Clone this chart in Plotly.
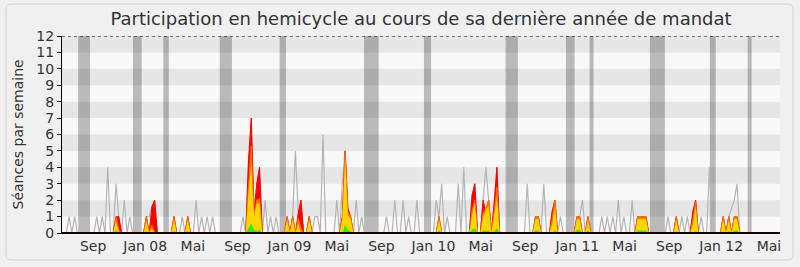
import plotly.graph_objects as go
import pandas as pd

# ---------------- data (weekly, first week starting 2007-06-18) ----------------
premiere_semaine = "2007-06-18"

seances_totales = [
    0, 0, 1, 0, 1, 0, 0, 0, 0, 0,
    0, 0, 1, 0, 1, 0, 4, 0, 0, 3,
    1, 0, 2, 0, 1, 0, 0, 0, 0, 0,
    1, 1, 1.6, 2, 0, 0, 0, 0, 0, 0,
    1, 0, 0, 1, 0, 1, 0, 0, 2, 0,
    1, 0, 1, 0, 1, 0, 0, 0, 0, 0,
    0, 0, 0, 0, 0, 1, 0, 4.4, 7, 1.2,
    3, 4, 0, 2, 0, 1, 0, 1, 0, 0,
    0, 1, 0, 1, 5, 1.2, 2, 0, 0, 1,
    0, 1, 1, 0, 6, 0, 0, 0, 0, 2,
    0, 3, 5, 1.5, 1, 0, 2, 0, 1, 0,
    0, 0, 0, 0, 0, 0, 0, 1, 0, 0,
    2, 0, 0, 2, 0, 1, 0, 0, 2, 0,
    0, 0, 0, 0, 0, 2, 1, 3, 0, 1,
    0, 0, 0, 3, 0, 4, 0, 0, 2.3, 3,
    0, 0, 2, 4, 2, 0, 1.8, 4, 0, 0,
    0, 0, 0, 0, 0, 0, 0, 0, 3, 0,
    0, 1, 1, 0, 3, 0, 0, 1.3, 2, 0,
    1, 0, 0, 0, 0, 0, 1, 1, 2, 0,
    1, 0, 0, 0, 0, 1, 0, 1, 0, 1,
    0, 2, 0, 1, 0, 0, 2, 0, 1, 1,
    1, 1, 0, 0, 0, 0, 0, 0, 0, 1,
    0, 0, 1, 0, 1, 0, 1, 0, 1.3, 2,
    0, 1, 0, 0, 4, 0, 0, 0, 0, 1,
    0, 1, 1.5, 2, 3, 0, 0, 0, 0, 0,
    0, 0, 0, 0, 0, 0, 0, 0, 0, 0,
    0,
]

presences = [
    0, 0, 0, 0, 0, 0, 0, 0, 0, 0,
    0, 0, 0, 0, 0, 0, 0, 0, 0, 1,
    1, 0, 0, 0, 0, 0, 0, 0, 0, 0,
    1, 0, 1.6, 2, 0, 0, 0, 0, 0, 0,
    1, 0, 0, 0, 0, 1, 0, 0, 0, 0,
    0, 0, 0, 0, 0, 0, 0, 0, 0, 0,
    0, 0, 0, 0, 0, 0, 0, 4.4, 7, 1.2,
    3, 4, 0, 0, 0, 0, 0, 0, 0, 0,
    0, 1, 0, 1, 0, 1.2, 2, 0, 0, 1,
    0, 0, 0, 0, 0, 0, 0, 0, 0, 0,
    0, 1, 5, 1.5, 1, 0, 0, 0, 0, 0,
    0, 0, 0, 0, 0, 0, 0, 0, 0, 0,
    0, 0, 0, 0, 0, 0, 0, 0, 0, 0,
    0, 0, 0, 0, 0, 0, 1, 0, 0, 0,
    0, 0, 0, 0, 0, 0, 0, 0, 2.3, 3,
    0, 0, 2, 1.2, 2, 0, 1.8, 4, 0, 0,
    0, 0, 0, 0, 0, 0, 0, 0, 0, 0,
    0, 1, 1, 0, 0, 0, 0, 1.3, 2, 0,
    0, 0, 0, 0, 0, 0, 1, 1, 0, 0,
    1, 0, 0, 0, 0, 0, 0, 0, 0, 0,
    0, 0, 0, 0, 0, 0, 0, 0, 1, 1,
    1, 1, 0, 0, 0, 0, 0, 0, 0, 0,
    0, 0, 1, 0, 0, 0, 0, 0, 1.3, 2,
    0, 0, 0, 0, 0, 0, 0, 0, 0, 1,
    0, 1, 0, 1, 1, 0, 0, 0, 0, 0,
    0, 0, 0, 0, 0, 0, 0, 0, 0, 0,
    0,
]

participations = [
    0, 0, 0, 0, 0, 0, 0, 0, 0, 0,
    0, 0, 0, 0, 0, 0, 0, 0, 0, 1,
    0.2, 0, 0, 0, 0, 0, 0, 0, 0, 0,
    1, 0, 0.5, 0, 0, 0, 0, 0, 0, 0,
    1, 0, 0, 0, 0, 1, 0, 0, 0, 0,
    0, 0, 0, 0, 0, 0, 0, 0, 0, 0,
    0, 0, 0, 0, 0, 0, 0, 2.8, 5.3, 1.2,
    2, 2.1, 0, 0, 0, 0, 0, 0, 0, 0,
    0, 1, 0, 1, 0, 0.9, 0.3, 0, 0, 1,
    0, 0, 0, 0, 0, 0, 0, 0, 0, 0,
    0, 1, 5, 1.3, 1, 0, 0, 0, 0, 0,
    0, 0, 0, 0, 0, 0, 0, 0, 0, 0,
    0, 0, 0, 0, 0, 0, 0, 0, 0, 0,
    0, 0, 0, 0, 0, 0, 1, 0, 0, 0,
    0, 0, 0, 0, 0, 0, 0, 0, 1.4, 2,
    0, 0, 1.2, 1.5, 2, 0, 1.2, 2.8, 0, 0,
    0, 0, 0, 0, 0, 0, 0, 0, 0, 0,
    0, 1, 1, 0, 0, 0, 0, 0.8, 2, 0,
    0, 0, 0, 0, 0, 0, 1, 1, 0, 0,
    1, 0, 0, 0, 0, 0, 0, 0, 0, 0,
    0, 0, 0, 0, 0, 0, 0, 0, 1, 1,
    1, 1, 0, 0, 0, 0, 0, 0, 0, 0,
    0, 0, 1, 0, 0, 0, 0, 0, 0.8, 1.9,
    0, 0, 0, 0, 0, 0, 0, 0, 0, 1,
    0, 1, 0, 1, 1, 0, 0, 0, 0, 0,
    0, 0, 0, 0, 0, 0, 0, 0, 0, 0,
    0,
]

interventions = [
    0, 0, 0, 0, 0, 0, 0, 0, 0, 0,
    0, 0, 0, 0, 0, 0, 0, 0, 0, 0.75,
    0, 0, 0, 0, 0, 0, 0, 0, 0, 0,
    0.75, 0, 0.3, 0, 0, 0, 0, 0, 0, 0,
    0.8, 0, 0, 0, 0, 0.8, 0, 0, 0, 0,
    0, 0, 0, 0, 0, 0, 0, 0, 0, 0,
    0, 0, 0, 0, 0, 0, 0, 2.4, 4.2, 1.0,
    1.8, 1.8, 0, 0, 0, 0, 0, 0, 0, 0,
    0, 0.8, 0, 0.8, 0, 0.6, 0, 0, 0, 0.8,
    0, 0, 0, 0, 0, 0, 0, 0, 0, 0,
    0, 0.8, 4.6, 1.1, 0.85, 0, 0, 0, 0, 0,
    0, 0, 0, 0, 0, 0, 0, 0, 0, 0,
    0, 0, 0, 0, 0, 0, 0, 0, 0, 0,
    0, 0, 0, 0, 0, 0, 0.8, 0, 0, 0,
    0, 0, 0, 0, 0, 0, 0, 0, 1.1, 1.8,
    0, 0, 1.0, 1.4, 1.7, 0, 1.0, 2.2, 0, 0,
    0, 0, 0, 0, 0, 0, 0, 0, 0, 0,
    0, 0.85, 0.85, 0, 0, 0, 0, 0.5, 1.6, 0,
    0, 0, 0, 0, 0, 0, 0.85, 0.85, 0, 0,
    0.8, 0, 0, 0, 0, 0, 0, 0, 0, 0,
    0, 0, 0, 0, 0, 0, 0, 0, 0.85, 0.85,
    0.85, 0.85, 0, 0, 0, 0, 0, 0, 0, 0,
    0, 0, 0.8, 0, 0, 0, 0, 0, 0.5, 1.6,
    0, 0, 0, 0, 0, 0, 0, 0, 0, 0.8,
    0, 0.8, 0, 0.85, 0.85, 0, 0, 0, 0, 0,
    0, 0, 0, 0, 0, 0, 0, 0, 0, 0,
    0,
]

questions = [
    0, 0, 0, 0, 0, 0, 0, 0, 0, 0,
    0, 0, 0, 0, 0, 0, 0, 0, 0, 0.15,
    0, 0, 0, 0, 0, 0, 0, 0, 0, 0,
    0.1, 0, 0, 0, 0, 0, 0, 0, 0, 0,
    0.1, 0, 0, 0, 0, 0.1, 0, 0, 0, 0,
    0, 0, 0, 0, 0, 0, 0, 0, 0, 0,
    0, 0, 0, 0, 0, 0, 0, 0.3, 0.6, 0.2,
    0.1, 0.2, 0, 0, 0, 0, 0, 0, 0, 0,
    0, 0.1, 0, 0.1, 0, 0, 0, 0, 0, 0.1,
    0, 0, 0, 0, 0, 0, 0, 0, 0, 0,
    0, 0, 0.5, 0.2, 0.1, 0, 0, 0, 0, 0,
    0, 0, 0, 0, 0, 0, 0, 0, 0, 0,
    0, 0, 0, 0, 0, 0, 0, 0, 0, 0,
    0, 0, 0, 0, 0, 0, 0.15, 0, 0, 0,
    0, 0, 0, 0, 0, 0, 0, 0, 0.2, 0.3,
    0, 0, 0.15, 0.15, 0.15, 0, 0.1, 0.3, 0, 0,
    0, 0, 0, 0, 0, 0, 0, 0, 0, 0,
    0, 0.15, 0.15, 0, 0, 0, 0, 0, 0.15, 0,
    0, 0, 0, 0, 0, 0, 0.2, 0.2, 0, 0,
    0.15, 0, 0, 0, 0, 0, 0, 0, 0, 0,
    0, 0, 0, 0, 0, 0, 0, 0, 0.15, 0.15,
    0.15, 0.15, 0, 0, 0, 0, 0, 0, 0, 0,
    0, 0, 0.1, 0, 0, 0, 0, 0, 0, 0.1,
    0, 0, 0, 0, 0, 0, 0, 0, 0, 0.1,
    0, 0.1, 0, 0.15, 0.15, 0, 0, 0, 0, 0,
    0, 0, 0, 0, 0, 0, 0, 0, 0, 0,
    0,
]

vacances_debut = ["2007-07-25", "2007-12-11", "2008-02-26", "2008-07-18", "2008-12-17",
                  "2009-07-19", "2009-12-18", "2010-07-13", "2010-12-13", "2011-02-11",
                  "2011-07-14", "2011-12-13", "2012-03-18"]
vacances_fin = ["2007-08-24", "2008-01-02", "2008-03-11", "2008-08-18", "2009-01-02",
                "2009-08-25", "2010-01-05", "2010-08-13", "2011-01-04", "2011-02-21",
                "2011-08-21", "2011-12-28", "2012-03-28"]

tick_dates = ["2007-09-01", "2008-01-11", "2008-05-11", "2008-09-01", "2009-01-11",
              "2009-05-11", "2009-09-01", "2010-01-11", "2010-05-11", "2010-09-01",
              "2011-01-11", "2011-05-11", "2011-09-01", "2012-01-11", "2012-05-11"]
tick_labels = ["Sep", "Jan 08", "Mai", "Sep", "Jan 09", "Mai", "Sep", "Jan 10", "Mai",
               "Sep", "Jan 11", "Mai", "Sep", "Jan 12", "Mai"]

titre = "Participation en hemicycle au cours de sa dernière année de mandat"
titre_y = "Séances par semaine"

# ---------------- figure ----------------
semaines = pd.date_range(premiere_semaine, periods=len(seances_totales), freq="7D")
FONT = "DejaVu Sans"

fig = go.Figure()
fig.add_trace(go.Scatter(x=semaines, y=seances_totales, mode="lines",
                         line=dict(color="#b4b4b4", width=1.2), hoverinfo="skip"))
fig.add_trace(go.Scatter(x=semaines, y=presences, mode="lines", fill="tozeroy",
                         fillcolor="#ff0000", line=dict(color="#ff0000", width=1), hoverinfo="skip"))
fig.add_trace(go.Scatter(x=semaines, y=participations, mode="lines", fill="tozeroy",
                         fillcolor="#ff7a00", line=dict(color="#ff6a00", width=1), hoverinfo="skip"))
fig.add_trace(go.Scatter(x=semaines, y=interventions, mode="lines", fill="tozeroy",
                         fillcolor="#ffd700", line=dict(color="#ffd700", width=0), hoverinfo="skip"))
fig.add_trace(go.Scatter(x=semaines, y=questions, mode="lines", fill="tozeroy",
                         fillcolor="#33ee00", line=dict(color="#33ee00", width=0), hoverinfo="skip"))

shapes = []
# alternating horizontal bands
for k in range(1, 12, 2):
    shapes.append(dict(type="rect", xref="paper", yref="y", x0=0, x1=1, y0=k, y1=k + 1,
                       fillcolor="#e6e6e6", line=dict(width=0), layer="below"))
# vacation bands
for d0, d1 in zip(vacances_debut, vacances_fin):
    shapes.append(dict(type="rect", xref="x", yref="paper", x0=d0, x1=d1, y0=0, y1=1,
                       fillcolor="rgba(0,0,0,0.25)", line=dict(width=0), layer="below"))
# dotted top line
shapes.append(dict(type="line", xref="paper", yref="y", x0=0, x1=1, y0=12, y1=12,
                   line=dict(color="black", width=1, dash="dot"), layer="above"))
# baseline drawn above the filled areas
shapes.append(dict(type="line", xref="paper", yref="y", x0=0, x1=1, y0=0, y1=0,
                   line=dict(color="#1a0000", width=2), layer="above"))
# rounded outer frame
W, H, ML, MR, MT, MB = 800, 267, 62, 20, 36, 34
pw, ph = W - ML - MR, H - MT - MB
L, R = (6 - ML) / pw, (793 - ML) / pw
B, T = (MT + ph - 260) / ph, (MT + ph - 4) / ph
rx, ry = 5 / pw, 5 / ph
path = (f"M {L+rx},{B} L {R-rx},{B} Q {R},{B} {R},{B+ry} L {R},{T-ry} Q {R},{T} {R-rx},{T} "
        f"L {L+rx},{T} Q {L},{T} {L},{T-ry} L {L},{B+ry} Q {L},{B} {L+rx},{B} Z")
shapes.append(dict(type="path", xref="paper", yref="paper", path=path,
                   line=dict(color="#d4d4d4", width=1), layer="below"))

fig.update_layout(
    width=W, height=H, autosize=False,
    margin=dict(l=ML, r=MR, t=MT, b=MB, pad=0),
    paper_bgcolor="#f0f0f0", plot_bgcolor="#f8f8f8",
    showlegend=False,
    font=dict(family=FONT, size=14, color="#333333"),
    title=dict(text=titre, x=0.5, xref="paper", xanchor="center",
               y=1 - 19 / H, yref="container", yanchor="middle",
               font=dict(family=FONT, size=18, color="#333333")),
    shapes=shapes,
    annotations=[dict(text=titre_y, xref="paper", yref="paper", x=(17 - ML) / pw, y=0.5,
                      xanchor="center", yanchor="middle", textangle=-90, showarrow=False,
                      font=dict(family=FONT, size=14, color="#333333"))],
    xaxis=dict(type="date", range=["2007-06-14", "2012-06-08"], tickvals=tick_dates,
               ticktext=tick_labels, ticks="", showgrid=False, zeroline=False,
               showline=True, linecolor="black", linewidth=1,
               tickfont=dict(family=FONT, size=14, color="#333333")),
    yaxis=dict(range=[0, 12], tickvals=list(range(0, 13)), ticks="outside", ticklen=4,
               tickcolor="black", showgrid=False, zeroline=False, showline=True,
               linecolor="black", linewidth=1,
               tickfont=dict(family=FONT, size=14, color="#333333")),
)

fig.write_html("out.html")
